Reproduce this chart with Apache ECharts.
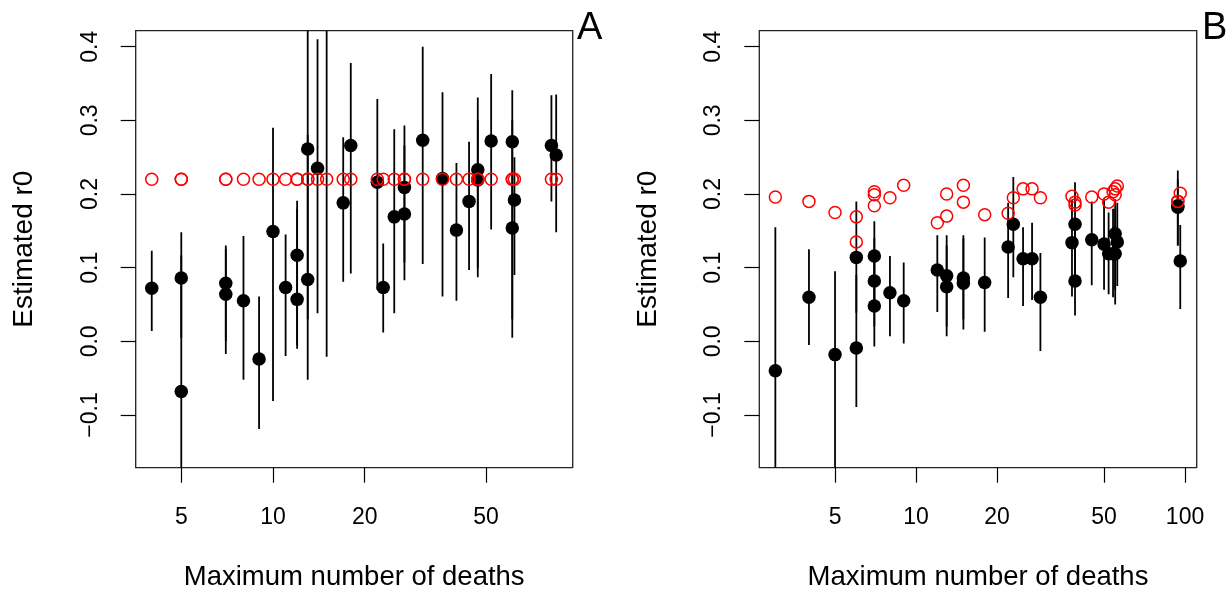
<!DOCTYPE html>
<html>
<head>
<meta charset="utf-8">
<script src="https://cdn.jsdelivr.net/npm/echarts@6/dist/echarts.min.js"></script>
<style>
html,body{margin:0;padding:0;background:#fff;}
#c{width:1229px;height:591px;}
</style>
</head>
<body>
<div id="c"></div>
<script>
// ---- Panel A data ----
const deathsA = [4,5,5,7,7,8,9,10,11,12,12,13,13,14,15,17,18,22,23,25,27,27,31,36,40,44,47,47,52,61,61,62,82,85];
const r0A     = [0.072,0.086,-0.068,0.079,0.064,0.055,-0.024,0.149,0.073,0.117,0.057,0.261,0.084,0.235,0.50,0.188,0.266,0.216,0.073,0.169,0.209,0.173,0.273,0.221,0.151,0.190,0.233,0.219,0.272,0.271,0.154,0.192,0.266,0.253];
const loA     = [0.014,0.005,-0.25,0.000,-0.017,-0.052,-0.119,-0.081,-0.020,-0.010,-0.005,0.030,-0.052,0.038,-0.021,0.081,0.092,0.070,0.012,0.038,0.107,0.083,0.105,0.061,0.055,0.097,0.087,0.100,0.152,0.005,0.030,0.090,0.190,0.148];
const hiA     = [0.123,0.148,0.117,0.130,0.125,0.143,0.061,0.290,0.145,0.191,0.180,0.55,0.280,0.410,0.70,0.277,0.378,0.329,0.133,0.288,0.293,0.266,0.400,0.338,0.242,0.271,0.331,0.300,0.363,0.341,0.300,0.250,0.334,0.335];
const nullA   = [0.22,0.22,0.22,0.22,0.22,0.22,0.22,0.22,0.22,0.22,0.22,0.22,0.22,0.22,0.22,0.22,0.22,0.22,0.22,0.22,0.22,0.22,0.22,0.22,0.22,0.22,0.22,0.22,0.22,0.22,0.22,0.22,0.22,0.22];

// ---- Panel B data ----
const deathsB = [3,4,5,6,6,7,7,7,8,9,12,13,13,15,15,18,22,23,25,27,29,38,39,39,45,50,52,54,55,55,56,94,94,96];
const r0B     = [-0.040,0.060,-0.018,0.114,-0.009,0.116,0.082,0.048,0.066,0.055,0.097,0.089,0.074,0.086,0.079,0.080,0.128,0.159,0.112,0.112,0.060,0.134,0.159,0.082,0.138,0.132,0.119,0.119,0.146,0.119,0.135,0.184,0.182,0.109];
const loB     = [-0.25,-0.005,-0.25,0.039,-0.089,0.040,0.020,-0.007,0.007,-0.003,0.040,0.020,0.007,0.030,0.016,0.013,0.059,0.087,0.048,0.056,-0.013,0.061,0.080,0.035,0.076,0.070,0.064,0.060,0.070,0.050,0.075,0.130,0.130,0.044];
const hiB     = [0.155,0.125,0.095,0.190,0.090,0.163,0.140,0.120,0.116,0.107,0.144,0.144,0.130,0.144,0.140,0.141,0.188,0.223,0.155,0.161,0.120,0.192,0.216,0.150,0.190,0.193,0.175,0.180,0.193,0.180,0.188,0.232,0.220,0.158];
const nullB   = [0.196,0.190,0.175,0.169,0.135,0.203,0.199,0.184,0.195,0.212,0.161,0.200,0.170,0.212,0.189,0.172,0.174,0.195,0.207,0.207,0.195,0.197,0.189,0.185,0.196,0.200,0.189,0.203,0.207,0.199,0.211,0.190,0.190,0.201];

// ---- tick labels ----
const xTicksA = [5,10,20,50];
const xTicksB = [5,10,20,50,100];
const yTicks  = [-0.1,0.0,0.1,0.2,0.3,0.4];
const panelLabels = ['A','B'];
const xTitle = 'Maximum number of deaths';
const yTitle = 'Estimated r0';

const FONT = 'Liberation Sans, Arial, Helvetica, sans-serif';

function yFmt(v){ return (v < 0 ? '\u2212' : '') + Math.abs(v).toFixed(1); }

function makeX(gi, min, max, ticks){
  return {
    type:'log', logBase:10, gridIndex:gi, min:min, max:max,
    axisLine:{show:false, onZero:false},
    splitLine:{show:false},
    axisTick:{show:true, inside:false, length:15, customValues:ticks, lineStyle:{color:'#000', width:1.2}},
    axisLabel:{show:true, customValues:ticks, margin:38, fontSize:23, fontFamily:FONT, color:'#000',
               formatter:function(v){ return String(Math.round(v)); }},
    name:xTitle, nameLocation:'middle', nameGap:96,
    nameTextStyle:{fontSize:27.5, fontFamily:FONT, color:'#000'}
  };
}
function makeY(gi){
  return {
    type:'value', gridIndex:gi, min:-0.1715, max:0.4217,
    axisLine:{show:false, onZero:false},
    splitLine:{show:false},
    axisTick:{show:true, inside:false, length:15, customValues:yTicks, lineStyle:{color:'#000', width:1.2}},
    axisLabel:{show:true, customValues:yTicks, rotate:90, margin:34, fontSize:23, fontFamily:FONT, color:'#000',
               formatter:yFmt},
    name:yTitle, nameLocation:'middle', nameGap:97, nameRotate:90,
    nameTextStyle:{fontSize:28, fontFamily:FONT, color:'#000'}
  };
}

function zip3(a,b,c){ return a.map((v,i)=>[v,b[i],c[i]]); }
function zip2(a,b){ return a.map((v,i)=>[v,b[i]]); }

function errSeries(gi, xs, lo, hi){
  return {
    type:'custom', xAxisIndex:gi, yAxisIndex:gi, clip:true, z:2,
    data: zip3(xs, lo, hi),
    encode:{x:0, y:[1,2]},
    renderItem:function(params, api){
      const p1 = api.coord([api.value(0), api.value(1)]);
      const p2 = api.coord([api.value(0), api.value(2)]);
      return {type:'line', shape:{x1:p1[0], y1:p1[1], x2:p2[0], y2:p2[1]},
              style:{stroke:'#000', lineWidth:1.8}};
    }
  };
}
function ptSeries(gi, xs, ys){
  return {type:'scatter', xAxisIndex:gi, yAxisIndex:gi, clip:true, z:3,
          data: zip2(xs, ys), symbol:'circle', symbolSize:13.5,
          itemStyle:{color:'#000', opacity:1}};
}
function redSeries(gi, xs, ys){
  return {type:'scatter', xAxisIndex:gi, yAxisIndex:gi, clip:true, z:4,
          data: zip2(xs, ys), symbol:'circle', symbolSize:12,
          itemStyle:{color:'rgba(255,255,255,0)', borderColor:'#ff0000', borderWidth:1.5, opacity:1}};
}

const chart = echarts.init(document.getElementById('c'), null, {renderer:'canvas'});
chart.setOption({
  animation:false,
  backgroundColor:'#fff',
  grid:[
    {left:135.7, top:30.7, width:437, height:437, show:true, borderColor:'#222', borderWidth:1.3,
     backgroundColor:'transparent', containLabel:false, outerBoundsMode:'none'},
    {left:759.3, top:30.7, width:437.4, height:437, show:true, borderColor:'#222', borderWidth:1.3,
     backgroundColor:'transparent', containLabel:false, outerBoundsMode:'none'}
  ],
  xAxis:[ makeX(0, 3.543, 96.3, xTicksA), makeX(1, 2.615, 110.5, xTicksB) ],
  yAxis:[ makeY(0), makeY(1) ],
  graphic:[
    {type:'text', left:577, top:10, style:{text:panelLabels[0], font:'38px '+FONT, fill:'#000'}},
    {type:'text', left:1202, top:10, style:{text:panelLabels[1], font:'38px '+FONT, fill:'#000'}}
  ],
  series:[
    errSeries(0, deathsA, loA, hiA),
    ptSeries(0, deathsA, r0A),
    redSeries(0, deathsA, nullA),
    errSeries(1, deathsB, loB, hiB),
    ptSeries(1, deathsB, r0B),
    redSeries(1, deathsB, nullB)
  ]
});
</script>
</body>
</html>
